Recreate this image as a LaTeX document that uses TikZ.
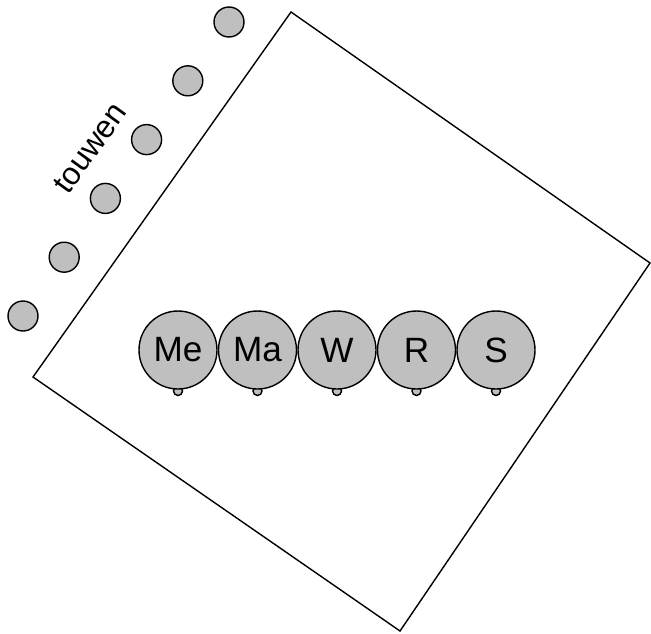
\documentclass[tikz,border=0pt]{standalone}
\usepackage{fontspec}
\setmainfont{Liberation Sans}
\usepackage{tikz}
\tikzset{
  peg/.style =		{shape=circle, draw, fill=gray!50,
				line width=1.2pt, minimum size=30*0.03cm, inner sep=0pt},
  balloon/.style =	{peg, minimum size=78*0.03cm, font=\fontsize{30}{33}\selectfont},
  knob/.style =		{peg, minimum size=9*0.03cm},
  label/.style =	{font=\fontsize{27}{30}\selectfont},
}

\begin{document}
\begin{tikzpicture}
	[
		x = 0.03cm,
		y = -0.03cm,
		line width = 1.2pt
	]
	\useasboundingbox (0,0) rectangle (651,633);
	% the boat
	\coordinate (top) at (291,12);
	\coordinate (rgt) at (650,263);
	\coordinate (bot) at (400,631);
	\coordinate (lft) at (33,377);
	\draw (top) -- (rgt) -- (bot) -- (lft) -- cycle;
	% pegs along the side
	\foreach \i in {0,...,5}
		\node [peg] (peg\i) at (23+41.2*\i, 316-58.8*\i) {};
	\node [label, rotate=54] (touwen) at (90,148) {touwen};
	% the rowers
	\foreach \name [count=\i from 0] in {Me,Ma,W,R,S} {
		\node [knob] (knob\i) at (178+79.5*\i, 391) {};
		\node [balloon] (row\i) at (178+79.5*\i, 350) {\name};
	}
\end{tikzpicture}
\end{document}
